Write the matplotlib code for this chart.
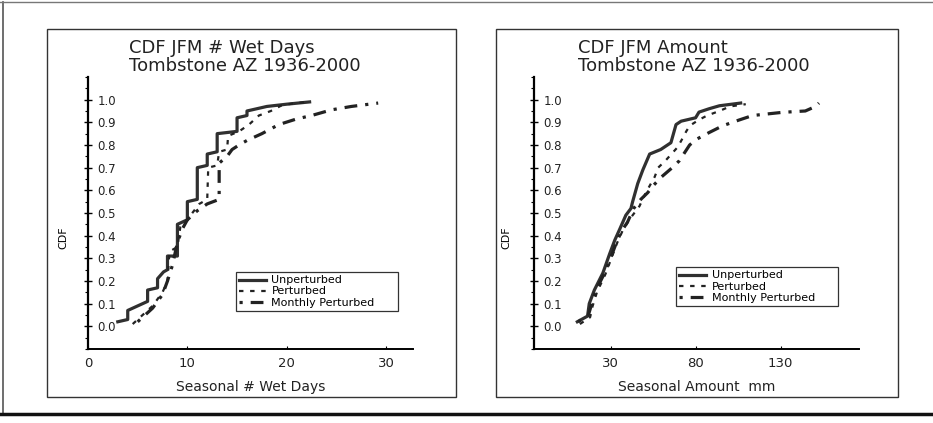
import matplotlib
matplotlib.use("Agg")
import matplotlib.pyplot as plt
from matplotlib.lines import Line2D
from matplotlib.patches import Rectangle
from matplotlib.ticker import MultipleLocator

# CDF of seasonal number of wet days (JFM)
wet_unpert_x = [3.0, 4.0, 4.0, 5.0, 6.0, 6.0, 7.0, 7.0, 7.6, 8.0, 8.0, 9.0, 9.0, 10.0, 10.0,
                11.0, 11.0, 12.0, 12.0, 13.0, 13.0, 15.0, 15.0, 16.0, 16.0, 17.0, 18.0, 20.0, 22.3]
wet_unpert_y = [0.02, 0.03, 0.07, 0.09, 0.11, 0.16, 0.17, 0.21, 0.24, 0.25, 0.31, 0.31, 0.45, 0.47, 0.55,
                0.56, 0.70, 0.71, 0.76, 0.77, 0.85, 0.86, 0.92, 0.93, 0.95, 0.96, 0.97, 0.98, 0.99]

wet_pert_x = [4.5, 5.0, 5.5, 6.0, 6.5, 7.0, 7.5, 8.0, 8.2, 9.0, 9.3, 10.0, 10.5, 11.2, 12.0, 12.1,
              13.0, 13.2, 14.0, 14.1, 15.2, 16.2, 17.2, 18.4, 19.5, 20.9, 22.2]
wet_pert_y = [0.01, 0.03, 0.05, 0.07, 0.09, 0.12, 0.15, 0.20, 0.33, 0.35, 0.44, 0.47, 0.50, 0.54, 0.56, 0.70,
              0.71, 0.77, 0.78, 0.84, 0.86, 0.89, 0.93, 0.95, 0.975, 0.985, 0.99]

wet_month_x = [5.0, 5.5, 6.0, 6.5, 7.0, 7.5, 8.0, 8.5, 9.0, 9.5, 10.0, 11.0, 12.0, 13.2, 13.2, 14.0,
               14.5, 15.2, 16.0, 17.5, 19.2, 21.0, 22.5, 24.5, 26.5, 29.2]
wet_month_y = [0.02, 0.04, 0.06, 0.08, 0.11, 0.14, 0.20, 0.27, 0.37, 0.43, 0.47, 0.51, 0.54, 0.56, 0.72, 0.75,
               0.78, 0.80, 0.82, 0.85, 0.89, 0.915, 0.93, 0.955, 0.97, 0.985]

# CDF of seasonal amount (mm)
amt_unpert_x = [10.5, 16.5, 17.5, 20.5, 25.5, 29.5, 32.5, 35.5, 39.0, 42.0, 43.0, 46.0, 49.0, 53.0,
                59.5, 65.5, 68.5, 71.5, 80.0, 82.0, 88.0, 94.0, 106.5]
amt_unpert_y = [0.02, 0.045, 0.10, 0.16, 0.235, 0.32, 0.38, 0.43, 0.49, 0.52, 0.55, 0.63, 0.69, 0.76,
                0.78, 0.81, 0.89, 0.905, 0.92, 0.945, 0.96, 0.973, 0.985]

amt_pert_x = [12.0, 18.0, 19.5, 22.0, 27.0, 31.0, 34.0, 37.0, 41.0, 45.0, 47.0, 50.8, 56.0, 58.0,
              62.2, 69.4, 72.4, 74.5, 76.6, 81.7, 86.8, 94.0, 100.2, 109.5]
amt_pert_y = [0.01, 0.04, 0.09, 0.15, 0.23, 0.31, 0.37, 0.42, 0.47, 0.51, 0.53, 0.59, 0.66, 0.70,
              0.73, 0.79, 0.83, 0.86, 0.885, 0.91, 0.93, 0.95, 0.97, 0.98]

amt_month_x = [11.0, 17.0, 19.0, 21.5, 26.5, 30.5, 33.5, 36.5, 40.0, 43.6, 47.8, 51.9, 55.0, 60.1,
               66.3, 70.4, 76.5, 80.5, 88.0, 96.0, 105.5, 113.5, 131.0, 144.5, 150.5, 152.5]
amt_month_y = [0.02, 0.05, 0.10, 0.16, 0.235, 0.31, 0.37, 0.42, 0.46, 0.52, 0.56, 0.59, 0.62, 0.66,
               0.70, 0.73, 0.80, 0.825, 0.855, 0.885, 0.91, 0.93, 0.944, 0.95, 0.97, 0.985]

series_labels = ["Unperturbed", "Perturbed", "Monthly Perturbed"]
ink = "#222222"

fig = plt.figure(figsize=(9.33, 4.23), dpi=100)
fig.patch.set_facecolor("white")

# outer frame of the scanned page
fig.add_artist(Line2D([0.003, 0.003], [0.02, 0.995], color="#555555", lw=1.2))
fig.add_artist(Line2D([0.0, 1.0], [0.995, 0.995], color="#777777", lw=1.0))
fig.add_artist(Line2D([0.0, 1.0], [0.022, 0.022], color="#111111", lw=2.5))

# panel boxes
for x0, w in [(0.0504, 0.4384), (0.5316, 0.4309)]:
    fig.add_artist(Rectangle((x0, 0.0615), w, 0.870, transform=fig.transFigure,
                             fill=False, edgecolor="#333333", lw=1.0))


def style_axes(ax, xlim, xticks):
    ax.set_xlim(*xlim)
    ax.set_ylim(-0.1, 1.1)
    for side in ["top", "right"]:
        ax.spines[side].set_visible(False)
    ax.spines["left"].set_linewidth(1.6)
    ax.spines["bottom"].set_linewidth(1.4)
    ax.set_xticks(xticks)
    ax.set_yticks([i / 10 for i in range(11)])
    ax.set_yticklabels(["%.1f" % (i / 10) for i in range(11)])
    ax.yaxis.set_minor_locator(MultipleLocator(0.05))
    ax.tick_params(axis="y", which="major", direction="inout", length=6, width=1.0,
                   pad=-10, labelsize=8.5, labelcolor=ink)
    ax.tick_params(axis="y", which="minor", direction="out", length=2.5, width=0.8)
    ax.tick_params(axis="x", direction="in", length=2, width=0.8, labelsize=9.5, pad=6,
                   labelcolor=ink)
    for lab in ax.get_yticklabels():
        lab.set_horizontalalignment("left")


def draw_panel(ax, xs, ys):
    ax.plot(xs[0], ys[0], color="#303030", lw=2.3, ls="-", label=series_labels[0])
    ax.plot(xs[1], ys[1], color=ink, lw=1.6, ls=(0, (2, 3)), label=series_labels[1])
    ax.plot(xs[2], ys[2], color=ink, lw=2.3, ls=(0, (1, 2.5, 4, 2.5)), label=series_labels[2])


ax1 = fig.add_axes([0.0943, 0.175, 0.3483, 0.643])
draw_panel(ax1, [wet_unpert_x, wet_pert_x, wet_month_x], [wet_unpert_y, wet_pert_y, wet_month_y])
style_axes(ax1, (0, 32.7), [0, 10, 20, 30])
ax1.set_xlabel("Seasonal # Wet Days", fontsize=10, labelpad=7, color=ink)

ax2 = fig.add_axes([0.5723, 0.175, 0.3483, 0.643])
draw_panel(ax2, [amt_unpert_x, amt_pert_x, amt_month_x], [amt_unpert_y, amt_pert_y, amt_month_y])
style_axes(ax2, (-15, 176), [30, 80, 130])
ax2.set_xlabel("Seasonal Amount  mm", fontsize=10, labelpad=7, color=ink)

for ax, anchor in [(ax1, (0.455, 0.14, 0.50, 0.132)), (ax2, (0.437, 0.158, 0.50, 0.132))]:
    leg = ax.legend(loc="lower left", bbox_to_anchor=anchor, mode="expand", fontsize=8,
                    frameon=True, fancybox=False, edgecolor="#333333", framealpha=1,
                    handlelength=2.4, handleheight=0.5, handletextpad=0.5, borderpad=0.3,
                    labelspacing=0.1, borderaxespad=0)
    leg.get_frame().set_linewidth(0.9)

# titles and y labels
fig.text(129 / 933, 1 - 48 / 423, "CDF JFM # Wet Days", fontsize=13, va="center", color=ink)
fig.text(129 / 933, 1 - 66 / 423, "Tombstone AZ 1936-2000", fontsize=13, va="center", color=ink)
fig.text(578 / 933, 1 - 48 / 423, "CDF JFM Amount", fontsize=13, va="center", color=ink)
fig.text(578 / 933, 1 - 66 / 423, "Tombstone AZ 1936-2000", fontsize=13, va="center", color=ink)
fig.text(63 / 933, 1 - 238 / 423, "CDF", fontsize=8, rotation=90, ha="center", va="center")
fig.text(506 / 933, 1 - 238 / 423, "CDF", fontsize=8, rotation=90, ha="center", va="center")

fig.savefig("out.png", dpi=100)
